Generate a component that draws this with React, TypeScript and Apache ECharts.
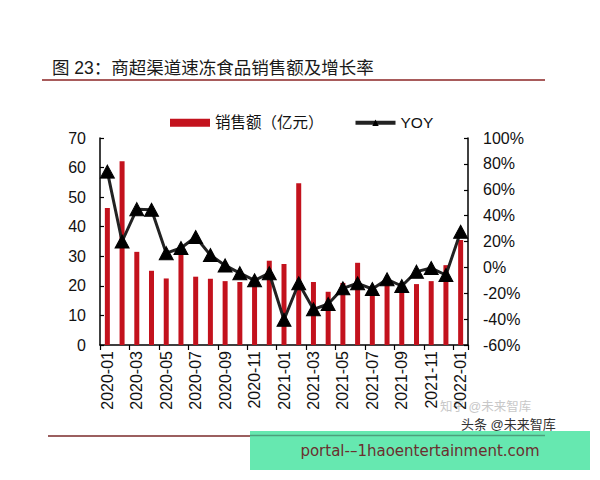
import React, { useEffect, useRef } from "react";
import * as echarts from "echarts";

const categories = [
  "2020-01", "2020-02", "2020-03", "2020-04", "2020-05", "2020-06", "2020-07",
  "2020-08", "2020-09", "2020-10", "2020-11", "2020-12", "2021-01", "2021-02",
  "2021-03", "2021-04", "2021-05", "2021-06", "2021-07", "2021-08", "2021-09",
  "2021-10", "2021-11", "2021-12", "2022-01",
];
const salesValues = [
  46.3, 62.1, 31.5, 25.1, 22.5, 31.0, 23.1, 22.4, 21.6, 21.3, 21.5, 28.5, 27.4,
  54.7, 21.3, 18.0, 21.0, 27.8, 20.0, 21.0, 20.0, 20.6, 21.6, 27.0, 35.5,
];
const yoyValues = [
  74, 20, 45, 44.5, 11, 15, 23.5, 9.5, 1.5, -4.5, -10, -4.5, -40.5, -12.3,
  -32.4, -28.3, -16.2, -12.3, -16.7, -9.2, -14.4, -3.3, -0.5, -5.9, 27.5,
];
const salesName = "销售额（亿元）";
const yoyName = "YOY";
const titleText = "图 23：商超渠道速冻食品销售额及增长率";

const FONT = '"Liberation Sans", Arial, "Noto Sans CJK SC", sans-serif';

export default function App() {
  const ref = useRef<HTMLDivElement>(null);
  useEffect(() => {
    if (!ref.current) return;
    const chart = echarts.init(ref.current, undefined, { renderer: "svg" });
    chart.setOption({
      animation: false,
      backgroundColor: "#ffffff",
      textStyle: { fontFamily: FONT },
      legend: {
        left: 165,
        top: 110,
        itemWidth: 40,
        itemHeight: 8,
        itemGap: 30,
        textStyle: { fontSize: 15.5, color: "#111", fontFamily: FONT },
        data: [
          { name: salesName, icon: "rect" },
          { name: yoyName, lineStyle: { width: 4, color: "#222" } },
        ],
      },
      grid: { left: 100, right: 132, top: 138, bottom: 135 },
      xAxis: {
        type: "category",
        data: categories,
        boundaryGap: true,
        axisLine: { lineStyle: { color: "#000", width: 1.5 } },
        axisTick: { show: true, interval: 1, length: 5, lineStyle: { color: "#000", width: 1.2 } },
        axisLabel: {
          interval: 1,
          rotate: 90,
          fontSize: 16,
          color: "#111",
          margin: 6,
          fontFamily: FONT,
        },
      },
      yAxis: [
        {
          type: "value",
          min: 0,
          max: 70,
          interval: 10,
          position: "left",
          splitLine: { show: false },
          axisLine: { show: true, lineStyle: { color: "#000", width: 1.5 } },
          axisTick: { show: true, inside: true, length: 4, lineStyle: { color: "#000", width: 1.2 } },
          axisLabel: { fontSize: 16, color: "#111", margin: 14, fontFamily: FONT },
        },
        {
          type: "value",
          min: -60,
          max: 100,
          interval: 20,
          position: "right",
          splitLine: { show: false },
          axisLine: { show: true, lineStyle: { color: "#000", width: 1.5 } },
          axisTick: { show: true, inside: true, length: 4, lineStyle: { color: "#000", width: 1.2 } },
          axisLabel: { fontSize: 16, color: "#111", margin: 15, formatter: "{value}%", fontFamily: FONT },
        },
      ],
      series: [
        {
          name: salesName,
          type: "bar",
          yAxisIndex: 0,
          data: salesValues,
          barWidth: 5,
          itemStyle: { color: "#c3121d" },
        },
        {
          name: yoyName,
          type: "line",
          yAxisIndex: 1,
          data: yoyValues,
          symbol: "triangle",
          symbolSize: [14, 13],
          showAllSymbol: true,
          lineStyle: { color: "#222", width: 3 },
          itemStyle: { color: "#000", borderColor: "#000" },
        },
      ],
      graphic: [
        {
          type: "text",
          x: 52,
          y: 68,
          style: {
            text: titleText,
            fontSize: 17.5,
            fontFamily: FONT,
            fill: "#1a1a1a",
            verticalAlign: "middle",
            align: "left",
          },
        },
        {
          type: "line",
          shape: { x1: 42, y1: 80, x2: 545, y2: 80 },
          style: { stroke: "#8b2424", lineWidth: 1.5 },
        },
        {
          type: "line",
          shape: { x1: 48, y1: 436, x2: 545, y2: 436 },
          style: { stroke: "#7a2a2a", lineWidth: 1.5 },
        },
        {
          type: "text",
          x: 440,
          y: 407,
          style: {
            text: "知乎 @未来智库",
            fontSize: 12.5,
            fontFamily: FONT,
            fill: "#c8c8c8",
            verticalAlign: "middle",
            align: "left",
          },
        },
        {
          type: "text",
          x: 461,
          y: 424,
          style: {
            text: "头条 @未来智库",
            fontSize: 13,
            fontFamily: FONT,
            fill: "#333",
            verticalAlign: "middle",
            align: "left",
          },
        },
        {
          type: "rect",
          shape: { x: 250, y: 431, width: 340, height: 39 },
          style: { fill: "#66e8b0" },
        },
        {
          type: "line",
          shape: { x1: 250, y1: 435.5, x2: 545, y2: 435.5 },
          style: { stroke: "#4d9f7c", lineWidth: 1.5 },
        },
        {
          type: "text",
          x: 420,
          y: 451,
          style: {
            text: "portal-–1haoentertainment.com",
            fontSize: 15,
            fontFamily: '"DejaVu Sans", sans-serif',
            fill: "#6b2f2f",
            verticalAlign: "middle",
            align: "center",
          },
        },
      ],
    });
    return () => chart.dispose();
  }, []);
  return (
    <div
      ref={ref}
      style={{ position: "fixed", left: 0, top: 0, width: 600, height: 480 }}
    />
  );
}
